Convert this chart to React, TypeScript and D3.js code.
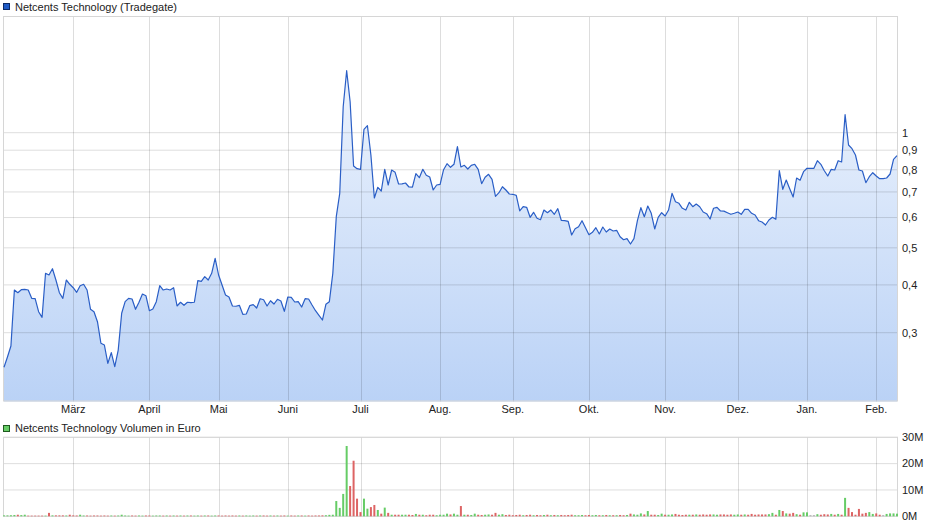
import React from 'react';
import * as d3 from 'd3';

const priceValues: number[] = [
  0.2436, 0.2592, 0.2769, 0.3879, 0.3817, 0.3886, 0.3892, 0.3880, 0.3690, 0.3685,
  0.3404, 0.3291, 0.4290, 0.4246, 0.4410, 0.4120, 0.3817, 0.3690, 0.4120, 0.4015,
  0.3933, 0.3826, 0.3981, 0.4015, 0.3879, 0.3454, 0.3404, 0.3205, 0.2815, 0.2786,
  0.2495, 0.2660, 0.2445, 0.2703, 0.3372, 0.3616, 0.3690, 0.3675, 0.3454, 0.3603,
  0.3787, 0.3749, 0.3425, 0.3460, 0.3616, 0.3981, 0.3879, 0.3903, 0.3879, 0.3933,
  0.3523, 0.3603, 0.3538, 0.3603, 0.3594, 0.3603, 0.4103, 0.4088, 0.4203, 0.4120,
  0.4290, 0.4695, 0.4246, 0.3998, 0.3764, 0.3719, 0.3523, 0.3518, 0.3538, 0.3351,
  0.3357, 0.3530, 0.3551, 0.3481, 0.3681, 0.3659, 0.3523, 0.3637, 0.3566, 0.3668,
  0.3631, 0.3413, 0.3719, 0.3713, 0.3609, 0.3616, 0.3502, 0.3681, 0.3675, 0.3544,
  0.3425, 0.3331, 0.3238, 0.3559, 0.3616, 0.4290, 0.6031, 0.6943, 1.1694, 1.4524,
  1.2052, 0.8184, 0.8051, 0.8023, 1.0207, 1.0430, 0.8744, 0.6750, 0.7199, 0.7040,
  0.8023, 0.7299, 0.7989, 0.7879, 0.7343, 0.7350, 0.7388, 0.7212, 0.7205, 0.7813,
  0.7627, 0.8023, 0.7738, 0.7659, 0.7083, 0.7299, 0.7330, 0.8003, 0.8298, 0.8120,
  0.8268, 0.9192, 0.8135, 0.8218, 0.8037, 0.8218, 0.8268, 0.8023, 0.7356, 0.7645,
  0.7785, 0.7554, 0.6819, 0.6969, 0.7225, 0.7083, 0.6914, 0.6902, 0.6860, 0.6242,
  0.6405, 0.6382, 0.6009, 0.6193, 0.5973, 0.5923, 0.6279, 0.6178, 0.6279, 0.6119,
  0.6329, 0.5902, 0.5888, 0.5866, 0.5402, 0.5611, 0.5679, 0.5888, 0.5645, 0.5412,
  0.5490, 0.5645, 0.5435, 0.5668, 0.5500, 0.5601, 0.5534, 0.5557, 0.5347, 0.5251,
  0.5283, 0.5117, 0.5283, 0.5888, 0.6367, 0.6031, 0.6432, 0.6156, 0.5601, 0.6009,
  0.6178, 0.6057, 0.6279, 0.6943, 0.6601, 0.6538, 0.6344, 0.6279, 0.6577, 0.6405,
  0.6510, 0.6405, 0.6204, 0.6141, 0.5948, 0.6344, 0.6382, 0.6242, 0.6236, 0.6178,
  0.6119, 0.6156, 0.6204, 0.6119, 0.6306, 0.6300, 0.6156, 0.6093, 0.5888, 0.5842,
  0.5737, 0.5912, 0.6009, 0.5937, 0.7955, 0.7113, 0.7522, 0.7138, 0.6790, 0.7613,
  0.7509, 0.7908, 0.8071, 0.8071, 0.8071, 0.8449, 0.8268, 0.7955, 0.7705, 0.8023,
  0.7989, 0.8449, 0.8383, 1.1145, 0.9286, 0.9082, 0.8744, 0.7989, 0.7941, 0.7401,
  0.7673, 0.7860, 0.7705, 0.7581, 0.7581, 0.7613, 0.7799, 0.8520, 0.8707,
];

// Volume in million euro
const volumeValues: number[] = [
  0.35, 0.35, 0.4, 0.5, 0.6, 0.45, 0.6, 0.25, 0.25, 0.25,
  0.25, 0.25, 0.25, 1.3, 0.35, 0.35, 0.35, 0.35, 0.3, 0.6,
  0.35, 0.3, 0.6, 0.3, 0.3, 0.25, 0.3, 0.3, 0.25, 0.3,
  0.25, 0.3, 0.25, 0.3, 0.6, 0.3, 0.25, 0.3, 0.25, 0.3,
  0.25, 0.3, 0.3, 0.25, 0.3, 0.3, 0.25, 0.3, 0.25, 0.3,
  0.25, 0.3, 0.25, 0.3, 0.3, 0.25, 0.3, 0.25, 0.3, 0.3,
  0.25, 0.3, 0.3, 0.25, 0.3, 0.25, 0.3, 0.25, 0.3, 0.25,
  0.3, 0.25, 0.3, 0.25, 0.3, 0.3, 0.25, 0.3, 0.25, 0.3,
  0.25, 0.3, 0.25, 0.3, 0.25, 0.3, 0.3, 0.25, 0.3, 0.25,
  0.3, 0.3, 0.35, 0.4, 0.55, 0.6, 5.8, 3.2, 8.5, 26.7,
  11.5, 21.1, 6.7, 1.6, 6.7, 2.9, 3.5, 4.3, 2.4, 1.0,
  3.3, 1.3, 0.6, 0.6, 0.6, 0.6, 0.6, 0.6, 0.5, 0.9,
  0.6, 0.6, 0.4, 0.6, 0.6, 0.4, 0.6, 0.6, 1.0, 0.7,
  1.0, 0.6, 3.9, 0.6, 0.6, 0.5, 1.0, 0.6, 0.5, 0.6,
  0.7, 0.6, 1.3, 0.6, 0.8, 0.5, 0.6, 0.4, 0.5, 0.6,
  0.4, 0.5, 0.6, 0.4, 0.5, 0.4, 0.5, 0.6, 0.4, 0.5,
  0.4, 0.5, 0.4, 0.5, 0.6, 0.4, 0.4, 0.5, 0.4, 0.5,
  0.4, 0.5, 0.4, 0.4, 0.5, 0.4, 0.4, 0.4, 0.5, 0.4,
  0.5, 1.0, 0.7, 0.6, 1.1, 0.7, 2.0, 0.6, 0.6, 0.5,
  1.0, 0.6, 0.6, 0.7, 0.9, 0.6, 0.5, 0.6, 0.6, 0.6,
  0.7, 0.6, 0.7, 0.6, 0.7, 0.7, 0.6, 0.7, 0.7, 0.6,
  0.7, 0.6, 0.7, 0.6, 0.7, 0.6, 0.9, 0.6, 0.7, 0.7,
  0.7, 0.8, 1.3, 0.6, 2.4, 2.0, 1.1, 1.0, 1.3, 0.8,
  0.6, 1.5, 1.5, 0.5, 0.5, 0.8, 0.6, 0.8, 0.7, 0.9,
  0.6, 0.9, 0.6, 7.0, 3.2, 1.6, 0.6, 2.8, 1.0, 1.3,
  1.6, 0.9, 1.1, 0.6, 0.5, 0.9, 1.1, 1.1, 1.0,
];

const monthLabels = ['März', 'April', 'Mai', 'Juni', 'Juli', 'Aug.', 'Sep.', 'Okt.', 'Nov.', 'Dez.', 'Jan.', 'Feb.'];
const monthStartIndex = [20, 42, 62, 82, 103, 126, 147, 169, 191, 212, 232, 252];
const priceTicks = [0.3, 0.4, 0.5, 0.6, 0.7, 0.8, 0.9, 1];
const volumeTicks = [0, 10, 20, 30];

const FONT = "'Liberation Sans', Arial, Helvetica, sans-serif";

export default function App() {
  const W = 940, H = 526;
  const left = 3, right = 898;
  const pTop = 16, pBottom = 401.5;
  const vTop = 437.3, vBottom = 516.3;

  const x = d3.scaleLinear().domain([0, priceValues.length - 1]).range([4, 897]);
  const y = d3.scaleLog().domain([0.3, 1]).range([332.7, 132.7]);
  const yv = d3.scaleLinear().domain([0, 30]).range([vBottom, vTop]);

  const area = d3.area<number>().x((_, i) => x(i)).y0(pBottom).y1((d) => y(d));
  const line = d3.line<number>().x((_, i) => x(i)).y((d) => y(d));

  const fmtP = (d: number) => (d === 1 ? '1' : d.toFixed(1).replace('.', ','));
  const gridStroke = 'rgba(0,0,0,0.135)';

  const barColor = (i: number) => {
    if (i === 0) return '#66cc66';
    const diff = priceValues[i] - priceValues[i - 1];
    if (diff > 0) return '#66cc66';
    if (diff < 0) return '#dd6464';
    return '#bbbbbb';
  };

  return (
    <svg width={W} height={H} style={{ position: 'absolute', left: 0, top: 0, background: '#fff' }} fontFamily={FONT}>
      <defs>
        <linearGradient id="pfill" gradientUnits="userSpaceOnUse" x1="0" y1="60" x2="0" y2={pBottom}>
          <stop offset="0" stopColor="#eef4fd" />
          <stop offset="1" stopColor="#bad2f6" />
        </linearGradient>
      </defs>

      {/* Price legend */}
      <rect x={3.5} y={3.5} width={6} height={6} fill="#1f5bc6" stroke="#0c2a66" strokeWidth={1} />
      <text x={15} y={11} fontSize={11} fill="#222">Netcents Technology (Tradegate)</text>

      {/* Price panel */}
      <rect x={left} y={pTop} width={right - left} height={pBottom - pTop} fill="#fff" />
      <path d={area(priceValues) || ''} fill="url(#pfill)" />
      {priceTicks.map((t) => (
        <line key={'hp' + t} x1={left} x2={right} y1={y(t)} y2={y(t)} stroke={gridStroke} strokeWidth={1} />
      ))}
      {monthStartIndex.map((m, k) => (
        <line key={'vp' + k} x1={Math.round(x(m)) + 0.5} x2={Math.round(x(m)) + 0.5} y1={pTop} y2={pBottom} stroke={gridStroke} strokeWidth={1} />
      ))}
      <rect x={left + 0.5} y={pTop + 0.5} width={right - left - 1} height={pBottom - pTop - 1} fill="none" stroke="#d6d6d6" strokeWidth={1} />
      <path d={line(priceValues) || ''} fill="none" stroke="#2a5ec6" strokeWidth={1.2} strokeLinejoin="round" />

      {priceTicks.map((t) => (
        <text key={'tp' + t} x={902} y={y(t)} dy="0.35em" fontSize={11} fill="#222">{fmtP(t)}</text>
      ))}
      {monthLabels.map((lab, k) => (
        <text key={'ml' + k} x={x(monthStartIndex[k])} y={413} textAnchor="middle" fontSize={11} fill="#222">{lab}</text>
      ))}

      {/* Volume legend */}
      <rect x={3.5} y={425.5} width={6} height={6} fill="#66cc66" stroke="#1f5a1f" strokeWidth={1} />
      <text x={15} y={432} fontSize={11} fill="#222">Netcents Technology Volumen in Euro</text>

      {/* Volume panel */}
      {volumeTicks.map((t) => (
        <line key={'hv' + t} x1={left} x2={right} y1={yv(t)} y2={yv(t)} stroke={gridStroke} strokeWidth={1} />
      ))}
      {monthStartIndex.map((m, k) => (
        <line key={'vv' + k} x1={Math.round(x(m)) + 0.5} x2={Math.round(x(m)) + 0.5} y1={vTop} y2={vBottom} stroke={gridStroke} strokeWidth={1} />
      ))}
      <rect x={left + 0.5} y={vTop} width={right - left - 1} height={vBottom - vTop} fill="none" stroke="#d6d6d6" strokeWidth={1} />
      {volumeValues.map((v, i) => (
        <rect key={'b' + i} x={x(i) - 1} y={yv(v)} width={2} height={vBottom - yv(v)} fill={barColor(i)} />
      ))}
      {volumeTicks.map((t) => (
        <text key={'tv' + t} x={902} y={yv(t)} dy="0.35em" fontSize={11} fill="#222">{t + 'M'}</text>
      ))}
    </svg>
  );
}
